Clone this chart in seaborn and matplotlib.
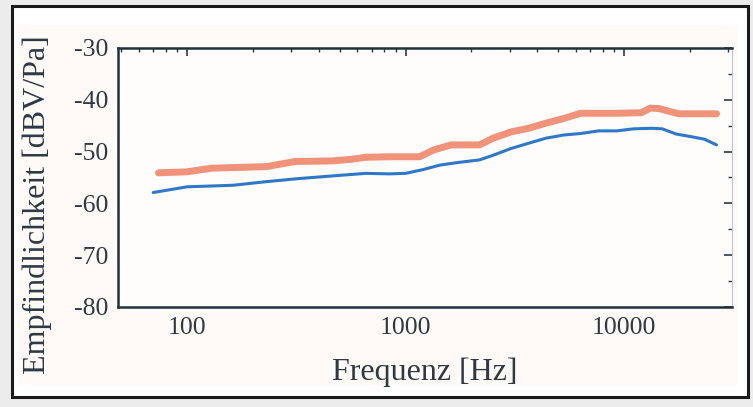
import numpy as np
import pandas as pd
import seaborn as sns
import matplotlib
matplotlib.use("Agg")
import matplotlib.pyplot as plt
from matplotlib.patches import Rectangle
from matplotlib.ticker import FixedLocator, LogLocator, NullFormatter, MultipleLocator

# Data
freq_blue = [70, 100, 162, 231, 326, 461, 658, 843, 1000, 1195, 1440, 1740, 2180, 2520, 3040,
             3650, 4400, 5300, 6340, 7650, 9250, 11100, 13400, 14950, 17300, 20150, 23300, 26500]
db_blue = [-57.9, -56.8, -56.5, -55.8, -55.2, -54.7, -54.2, -54.3, -54.2, -53.5, -52.6, -52.1, -51.6, -50.7, -49.4,
           -48.4, -47.4, -46.8, -46.5, -46.0, -46.0, -45.6, -45.5, -45.6, -46.6, -47.1, -47.6, -48.7]

freq_orange = [74, 100, 130, 231, 313, 461, 560, 658, 843, 1160, 1340, 1620, 2180, 2520, 3040,
               3650, 4400, 5300, 6340, 9250, 12000, 13200, 14500, 16000, 17800, 26500]
db_orange = [-54.1, -53.9, -53.2, -52.9, -51.9, -51.8, -51.5, -51.1, -51.0, -51.0, -49.7, -48.7, -48.7, -47.4, -46.2,
             -45.5, -44.5, -43.6, -42.6, -42.6, -42.5, -41.6, -41.7, -42.2, -42.7, -42.7]

x_ticks = [100, 1000, 10000]
x_ticklabels = ["100", "1000", "10000"]
y_ticks = [-30, -40, -50, -60, -70, -80]
y_ticklabels = ["-30", "-40", "-50", "-60", "-70", "-80"]

df_o = pd.DataFrame({"f": freq_orange, "db": db_orange})
df_b = pd.DataFrame({"f": freq_blue, "db": db_blue})

sns.set_theme(style="white")
plt.rcParams["font.family"] = ["Liberation Serif", "DejaVu Serif"]

txt = "#2c3b42"
fig = plt.figure(figsize=(7.53, 4.07), dpi=100)
fig.patch.set_facecolor("#ececec")
# white panel with black frame
fig.patches.append(Rectangle((12/753, 1-397/407), (748-12)/753, (397-6)/407,
                             transform=fig.transFigure, facecolor="white",
                             edgecolor="#1a1a1a", linewidth=2.2, zorder=-3))
fig.patches.append(Rectangle((18/753, 1-385/407), (738-18)/753, (385-25)/407,
                             transform=fig.transFigure, facecolor="#fffaf7",
                             edgecolor="none", zorder=-2))

ax = fig.add_axes([118/753, 1-307/407, (732-118)/753, (307-48)/407])
ax.set_zorder(1)
ax.set_facecolor("#fffdfb")

sns.lineplot(data=df_o, x="f", y="db", ax=ax, color="#f0876c", linewidth=5,
             alpha=0.9)
sns.lineplot(data=df_b, x="f", y="db", ax=ax, color="#2f78c8", linewidth=2.2)

ax.set_xscale("log")
ax.set_xlim(48.3, 31200)
ax.set_ylim(-80, -30)
ax.xaxis.set_major_locator(FixedLocator(x_ticks))
ax.set_xticklabels(x_ticklabels)
ax.xaxis.set_minor_locator(LogLocator(base=10, subs=np.arange(2, 10)))
ax.xaxis.set_minor_formatter(NullFormatter())
ax.yaxis.set_major_locator(FixedLocator(y_ticks))
ax.set_yticklabels(y_ticklabels)
ax.yaxis.set_minor_locator(MultipleLocator(5))

ax.tick_params(which="both", direction="in", top=True, right=True, colors=txt,
               labelsize=18.5, labelcolor=txt)
ax.tick_params(which="major", length=6, width=1.2)
ax.tick_params(which="minor", length=3, width=1.0)
ax.tick_params(axis="y", pad=7)
ax.tick_params(axis="x", pad=7)

for side in ["left", "bottom", "top"]:
    ax.spines[side].set_color("#1e3238")
    ax.spines[side].set_linewidth(1.8)
ax.spines["right"].set_color("#b8c8d8")
ax.spines["right"].set_linewidth(0.8)

ax.set_xlabel("")
ax.set_ylabel("")
fig.text(425/753, 1-372/407, "Frequenz [Hz]", fontsize=23, color=txt,
         ha="center", va="center")
fig.text(37/753, 1-205/407, "Empfindlichkeit [dBV/Pa]", fontsize=23, color=txt,
         ha="center", va="center", rotation=90)

fig.savefig("out.png", dpi=100, facecolor=fig.get_facecolor())
